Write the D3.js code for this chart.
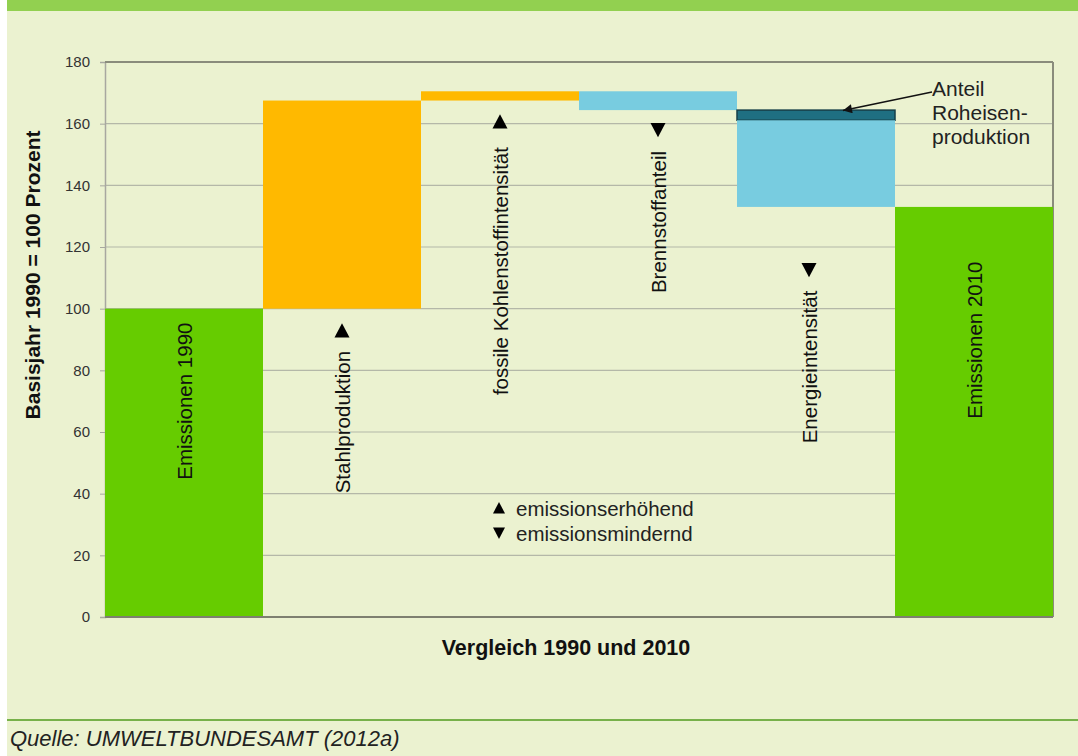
<!DOCTYPE html>
<html><head><meta charset="utf-8">
<script src="https://cdn.jsdelivr.net/npm/d3@7"></script>
<style>
html,body{margin:0;padding:0;background:#fff;}
svg{display:block;font-family:"Liberation Sans",Arial,sans-serif;}
</style></head>
<body><svg id="c" width="1078" height="756"></svg>
<script>
// ---- data ----
const categories = ["Emissionen 1990","Stahlproduktion","fossile Kohlenstoffintensität","Brennstoffanteil","Energieintensität","Emissionen 2010"];
const segCategory = ["Emissionen 1990","Stahlproduktion","fossile Kohlenstoffintensität","Brennstoffanteil","Energieintensität","Energieintensität","Emissionen 2010"];
const segFrom =     [0,   100,   167.5, 170.5, 164.4, 161.1, 0];
const segTo =       [100, 167.5, 170.5, 164.4, 161.1, 133,   133];
const segKind =     ["total","up","up","down","roheisen","down","total"];
const direction =   [null,"up","up","down","down",null];
const yTicks = [0,20,40,60,80,100,120,140,160,180];
const legendLabels = ["emissionserhöhend","emissionsmindernd"];
const annotationLines = ["Anteil","Roheisen-","produktion"];
const yTitle = "Basisjahr 1990 = 100 Prozent";
const xTitle = "Vergleich 1990 und 2010";
const source = "Quelle: UMWELTBUNDESAMT (2012a)";

// label anchors (value units along the y scale)
const labelAt = [70, 63.2, 112.2, 128.1, 81.1, 89.8];
const markerAt = [null, 92.8, 160.6, 158, 112.6, null];
const labelDx = [0, 0, 0, 0, -7, 0];

const colors = {total:"#66CC00", up:"#FFB900", down:"#78CCE0", roheisen:"#1F6F82"};

const svg = d3.select("#c");
// page background
svg.append("rect").attr("x",7).attr("y",0).attr("width",1071).attr("height",756).attr("fill","#EBF2D0");
svg.append("rect").attr("x",7).attr("y",0).attr("width",1071).attr("height",11).attr("fill","#92D050");
svg.append("line").attr("x1",7).attr("x2",1078).attr("y1",720).attr("y2",720).attr("stroke","#77B14A").attr("stroke-width",2);

const x = d3.scaleBand().domain(categories).range([105,1053]).padding(0);
const y = d3.scaleLinear().domain([0,180]).range([617,62]);

// gridlines
svg.append("g").selectAll("line").data(yTicks.filter(d=>d>0 && d<180)).join("line")
  .attr("x1",105).attr("x2",1053).attr("y1",d=>y(d)).attr("y2",d=>y(d))
  .attr("stroke","#B4B8A8").attr("stroke-width",1.2);

// y axis
const yAxis = svg.append("g").attr("transform","translate(105,0)")
  .call(d3.axisLeft(y).tickValues(yTicks).tickSize(5).tickPadding(10));
yAxis.select(".domain").attr("stroke","#A8A8A0").attr("stroke-width",1.5);
yAxis.selectAll(".tick line").attr("stroke","#A8A8A0");
yAxis.selectAll("text").attr("font-size",15).attr("fill","#333").attr("font-family","Liberation Sans, Arial, sans-serif");

// frame top and right
svg.append("line").attr("x1",105).attr("x2",1053).attr("y1",y(180)).attr("y2",y(180)).attr("stroke","#8A8C7C").attr("stroke-width",2);
svg.append("line").attr("x1",1053).attr("x2",1053).attr("y1",y(180)).attr("y2",y(0)).attr("stroke","#8A8C7C").attr("stroke-width",2);

// bars
const segs = segCategory.map((c,i)=>({c, from:segFrom[i], to:segTo[i], kind:segKind[i]}));
svg.append("g").selectAll("rect").data(segs).join("rect")
  .attr("x",d=>x(d.c)).attr("width",x.bandwidth())
  .attr("y",d=>y(Math.max(d.from,d.to))).attr("height",d=>Math.abs(y(d.from)-y(d.to)))
  .attr("fill",d=>colors[d.kind])
  .attr("stroke",d=>d.kind==="roheisen"?"#163F48":"none").attr("stroke-width",1.5);

// bottom axis line
svg.append("line").attr("x1",105).attr("x2",1053).attr("y1",y(0)).attr("y2",y(0)).attr("stroke","#7E8070").attr("stroke-width",2);

// rotated category labels
categories.forEach((c,i)=>{
  const cx = x(c)+x.bandwidth()/2 + labelDx[i];
  const cy = y(labelAt[i]);
  svg.append("text").attr("transform",`translate(${cx},${cy}) rotate(-90)`)
    .attr("text-anchor","middle").attr("dominant-baseline","central")
    .attr("font-size",20.5).attr("fill","#111").text(c);
  if (direction[i]) {
    const my = y(markerAt[i]);
    const s = 7.5;
    const pts = direction[i]==="up"
      ? [[cx,my-s],[cx-s,my+s*0.9],[cx+s,my+s*0.9]]
      : [[cx,my+s],[cx-s,my-s*0.9],[cx+s,my-s*0.9]];
    svg.append("polygon").attr("points",pts.map(p=>p.join(",")).join(" ")).attr("fill","#000");
  }
});

// legend
legendLabels.forEach((t,i)=>{
  const cy = 508 + i*25;
  const cx = 499, s = 6;
  const pts = i===0 ? [[cx,cy-s],[cx-s,cy+s*0.9],[cx+s,cy+s*0.9]] : [[cx,cy+s],[cx-s,cy-s*0.9],[cx+s,cy-s*0.9]];
  svg.append("polygon").attr("points",pts.map(p=>p.join(",")).join(" ")).attr("fill","#000");
  svg.append("text").attr("x",516).attr("y",cy).attr("dominant-baseline","central")
    .attr("font-size",20.5).attr("fill","#222").text(t);
});

// annotation
svg.append("defs").append("marker").attr("id","ah").attr("viewBox","0 0 10 10").attr("refX",10).attr("refY",5)
  .attr("markerWidth",13).attr("markerHeight",9).attr("markerUnits","userSpaceOnUse").attr("orient","auto")
  .append("path").attr("d","M0,0 L10,5 L0,10 Z").attr("fill","#111");
const ex = x("Energieintensität");
svg.append("line").attr("x1",932).attr("y1",92).attr("x2",ex+106).attr("y2",y(164.4)+0.5)
  .attr("stroke","#111").attr("stroke-width",1.5).attr("marker-end","url(#ah)");
annotationLines.forEach((t,i)=>{
  svg.append("text").attr("x",932).attr("y",88+i*24).attr("dominant-baseline","central")
    .attr("font-size",21).attr("fill","#222").text(t);
});

// axis titles
svg.append("text").attr("transform","translate(32,275) rotate(-90)").attr("text-anchor","middle")
  .attr("dominant-baseline","central").attr("font-size",21).attr("font-weight","bold").attr("fill","#111").text(yTitle);
svg.append("text").attr("x",566).attr("y",648).attr("text-anchor","middle").attr("dominant-baseline","central")
  .attr("font-size",21.5).attr("font-weight","bold").attr("fill","#111").text(xTitle);

// source
svg.append("text").attr("x",10).attr("y",738).attr("dominant-baseline","central")
  .attr("font-size",22).attr("font-style","italic").attr("fill","#222").text(source);
</script></body></html>
